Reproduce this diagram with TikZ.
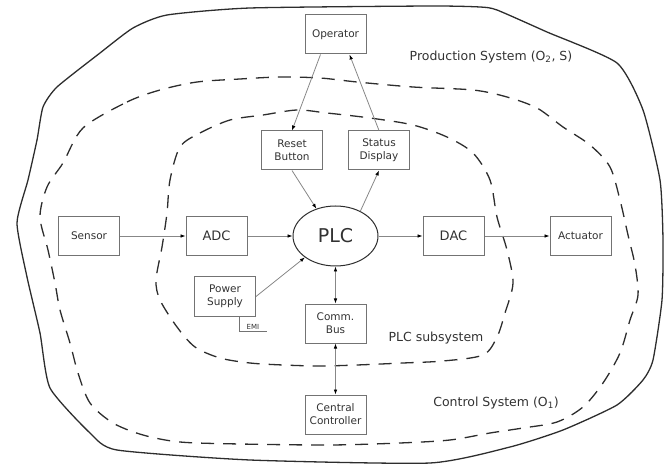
\documentclass[tikz,border=0pt]{standalone}
\usepackage{fontspec}
\setmainfont{DejaVu Sans}
\usetikzlibrary{shapes.geometric,arrows.meta}
\definecolor{myboxgray}{RGB}{115,115,115}
\definecolor{mylinegray}{RGB}{135,135,135}
\definecolor{mytextgray}{RGB}{50,50,50}
\definecolor{myzonegray}{RGB}{45,45,45}
\newcommand{\widthunit}{61pt}
\newcommand{\heightunit}{39pt}
\newcommand{\unitfont}{\fontsize{10.5}{13}\selectfont}
\tikzset{
    common/.style={draw=myboxgray, line width=1pt, text=mytextgray, align=center, inner sep=0pt},
    unit/.style={common, rectangle, minimum width=\widthunit, minimum height=\heightunit, font=\unitfont},
    converter/.style={unit, font=\fontsize{13}{15}\selectfont},
    core/.style={common, draw=myzonegray, ellipse, minimum width=85pt, minimum height=60pt, font=\fontsize{19}{22}\selectfont},
    zone/.style={draw=myzonegray, line width=1.3pt},
    zonedash/.style={zone, dash pattern=on 13pt off 9pt},
    zonelabel/.style={text=mytextgray, font=\fontsize{12.5}{15}\selectfont},
    flow/.style={draw=mylinegray, line width=0.8pt, ->},
    twoway/.style={flow, <->}
}

\begin{document}
\begin{tikzpicture}[x=1pt, y=-1pt, >={Latex[length=5pt,width=3.6pt,color=black]}]
    \useasboundingbox (0,0) rectangle (667,465);

    % the three systems
    \draw[zone] plot[smooth cycle, tension=0.35] coordinates {
        (250,8) (430,6) (480,7) (497,10) (547,32) (617,63) (643,110) (660,180)
        (663,240) (662,300) (653,360) (643,380) (617,405) (563,430) (510,447)
        (430,463) (250,460) (117,450) (90,433) (50,388) (40,333) (27,277)
        (17,223) (28,180) (37,140) (43,107) (57,87) (100,53) (133,28) (167,15)};
    \draw[zonedash] plot[smooth cycle, tension=0.5] coordinates {
        (83,128) (127,102) (160,90) (197,82) (240,79) (280,77) (320,78) (357,82)
        (413,87) (473,90) (507,97) (537,108) (563,127) (590,145) (610,167)
        (620,200) (628,235) (635,265) (638,295) (630,320) (620,353) (603,383)
        (583,407) (557,422) (523,428) (490,433) (450,440) (400,443) (330,445)
        (240,444) (180,442) (143,435) (113,423) (90,403) (78,373) (70,343)
        (60,310) (55,283) (48,250) (40,217) (47,187) (63,163)};
    \draw[zonedash] plot[smooth cycle, tension=0.5] coordinates {
        (180,147) (200,133) (230,120) (263,115) (297,110) (327,113) (370,118)
        (413,125) (447,137) (473,153) (490,180) (497,217) (507,250) (513,283)
        (505,313) (497,337) (483,355) (443,361) (403,363) (357,365) (320,366)
        (283,365) (250,363) (220,358) (195,347) (177,327) (160,300) (156,280)
        (162,247) (167,213) (170,180)};

    \node[zonelabel] (prodlabel) at (491,57) {Production System (O\textsubscript{2}, S)};
    \node[zonelabel] (plclabel) at (436,338) {PLC subsystem};
    \node[zonelabel] (ctrllabel) at (496,403) {Control System (O\textsubscript{1})};

    % blocks
    \node[unit] (operator) at (335.5,34.5) {Operator};
    \node[unit] (reset) at (292,150.5) {Reset\\Button};
    \node[unit] (status) at (379,150.5) {Status\\Display};
    \node[unit] (sensor) at (89,236) {Sensor};
    \node[converter] (adc) at (216.5,236) {ADC};
    \node[core] (plc) at (335.5,236) {PLC};
    \node[converter] (dac) at (453.5,236) {DAC};
    \node[unit] (actuator) at (580.5,236) {Actuator};
    \node[unit] (supply) at (225,296.5) {Power\\Supply};
    \node[unit] (bus) at (335.5,323.5) {Comm.\\Bus};
    \node[unit] (central) at (335.5,414.5) {Central\\Controller};
    \coordinate (emiend) at (267,331);

    \draw[flow] ([xshift=-15pt]operator.south) -- (reset.north);
    \draw[flow] (status.north) -- ([xshift=14pt]operator.south);
    \draw[flow] (reset.south) -- (plc.125);
    \draw[flow] (plc.45) -- (status.south);
    \draw[flow] (sensor) -- (adc);
    \draw[flow] (adc) -- (plc);
    \draw[flow] (plc) -- (dac);
    \draw[flow] (dac) -- (actuator);
    \draw[flow] (supply.east) -- (plc.215);
    \draw[twoway] (plc) -- (bus);
    \draw[twoway] (bus) -- (central);
    \draw[draw=myboxgray, line width=0.9pt] ([xshift=14pt]supply.south) |- (emiend)
        node[pos=0.75, above, inner sep=1.5pt, text=mytextgray, font=\fontsize{7}{8}\selectfont] (emi) {EMI};
\end{tikzpicture}
\end{document}
